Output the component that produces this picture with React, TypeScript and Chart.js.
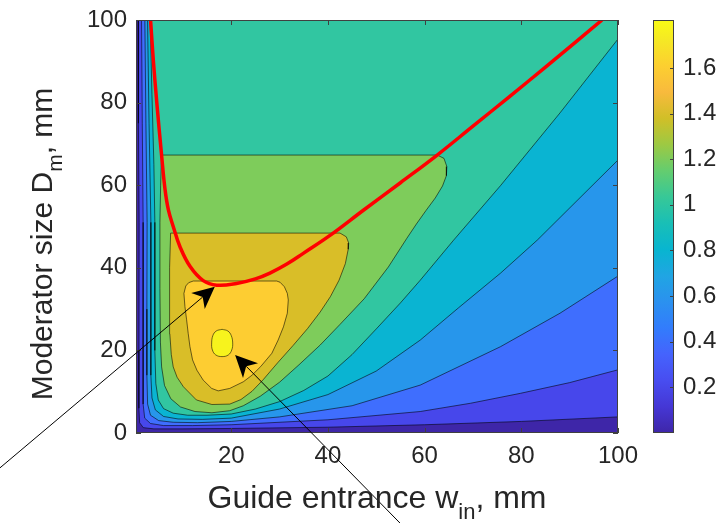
import React, { useEffect, useRef } from 'react';
import { Chart, registerables } from 'chart.js';
Chart.register(...registerables);

// ---------- axes / ticks ----------
const X_RANGE = [0.3, 100];
const Y_RANGE = [0, 100];
const CB_RANGE = [0, 1.81];
const X_TICKS = [20, 40, 60, 80, 100];
const Y_TICKS = [0, 20, 40, 60, 80, 100];
const CB_TICKS = [0.2, 0.4, 0.6, 0.8, 1, 1.2, 1.4, 1.6];

// ---------- contour levels (value of f >= level) ----------
const LEVELS = [0.2, 0.4, 0.6, 0.8, 1.0, 1.2, 1.4, 1.6, 1.8];

// open contours: start on top edge, end on right edge  [w_in, D_m]
const C_02 = [[0.75,100],[0.85,75],[0.95,51],[0.92,20],[0.9,6],[1.05,2.5],[1.8,1.3],[4,1.0],[10,1.0],[20,1.1],[40,1.4],[60,2.0],[80,2.8],[100,3.9]];
const C_04 = [[1.45,100],[1.6,75],[1.78,51],[1.75,15],[1.8,7],[2.1,3.6],[3.3,2.3],[6,1.8],[12,1.8],[20,2.0],[40,3.2],[59.1,5.2],[69.5,7.2],[79.8,9.6],[90,12.2],[100,15.3]];
const C_06 = [[2.13,100],[2.35,75],[2.6,51],[2.55,30],[2.55,14],[2.7,7],[3.3,4.3],[5,3.0],[8,2.6],[13,2.5],[20,2.8],[30,3.9],[45,6.6],[59.1,11.6],[75.7,20.9],[88,29],[100,38]];
const C_08 = [[2.69,100],[3.0,75],[3.38,51],[3.35,30],[3.4,14],[3.6,8.5],[4.3,5.6],[6,4.0],[9,3.4],[14,3.3],[20,3.6],[30,5.8],[40,9.3],[50,15],[59.1,22.5],[67,30.3],[75.7,38.7],[83.3,46.7],[100,66.1]];
const C_10 = [[3.23,100],[3.6,82],[4.0,65],[4.2,51],[4.2,35],[4.2,20],[4.4,12],[4.9,8],[6,5.9],[8,4.8],[11,4.3],[15,4.3],[20,4.6],[25,5.8],[30,7.6],[35,10.3],[40,13.8],[45,19],[50,25.2],[55,31.5],[59.1,37],[66,46.7],[75.7,59.9],[88,77.5],[100,95.4]];
// closed contours
const C_12 = [[5.59,67.3],[62.6,67.3],[64.0,66.5],[64.6,64.5],[64.5,62.3],[63.7,59.8],[62.2,56.9],[60.3,53.9],[58.3,50.6],[56.3,47.1],[52.5,40.2],[47.5,32.5],[42.5,26.3],[38.4,21.3],[34,16.5],[30,12.3],[26,8.9],[22.5,6.6],[19.7,5.4],[16,4.9],[12.5,5.2],[9.5,6.3],[7.5,8.3],[6.2,11.5],[5.6,16],[5.35,22],[5.25,35],[5.25,51],[5.4,60]];
const C_14 = [[7.46,48.4],[42.5,48.4],[43.8,47.5],[44.3,46],[44.2,44.5],[43.6,41],[42.3,37],[40.5,33],[38.4,29.3],[35.8,25.3],[32.8,21.2],[29.6,17],[26.6,12.9],[24.3,10.1],[22,8.1],[19.7,7.0],[16,6.9],[12.8,8.0],[10.1,11.2],[8.8,13.5],[8.0,16],[7.6,19],[7.3,24],[7.2,30],[7.3,40]];
const C_16 = [[12.14,36.8],[29.4,36.8],[30.1,36.5],[31.0,35.4],[31.6,33.8],[31.8,32.2],[31.6,29],[30.8,25.7],[29.7,22.5],[28.4,19.3],[26.1,16.1],[24.3,14.0],[22.5,12.4],[19.7,10.8],[17.3,10.2],[15.95,10.8],[14.2,12.8],[12.9,15.2],[12.0,17.7],[11.46,20.9],[11.1,24.1],[10.77,27.4],[10.42,30.6],[10.21,33.8],[10.6,35.6],[11.2,36.4]];
const C_18 = [[18.1,25.1],[19.3,24.7],[20.0,23.6],[20.3,21.8],[20.1,20.1],[19.4,18.9],[18.1,18.5],[16.8,18.9],[16.1,20.1],[15.95,21.8],[16.2,23.6],[16.9,24.7]];

const OPEN_CONTOURS = [C_02, C_04, C_06, C_08, C_10];
const CLOSED_CONTOURS = [C_12, C_14, C_16, C_18];

// optimum curve (red)
const RED_CURVE = [[3.31,100],[3.9,90],[4.6,80],[5.59,67.3],[6.3,59],[7.0,54],[8.0,50],[9.4,45.1],[11.5,40.3],[14.2,36.9],[17.0,35.8],[21.1,36.2],[25,37.3],[28.0,38.7],[31.5,40.9],[34.9,43.5],[40.5,47.9],[47.4,54.0],[55,60.6],[62.6,67.3],[70,74.3],[77.5,81.4],[85,88.6],[96.7,100]];

// annotation arrows (data units: from -> to)
const ARROWS = [
  { from: [-27.9, -8.5], to: [16.6, 35.4] },
  { from: [54.9, -21.8], to: [20.8, 18.9] },
];

// ---------- styles ----------
const BASE_COLOR = '#3e26a8';
const LEVEL_COLORS = ['#4747eb', '#3f6efe', '#2796eb', '#0ab4d2', '#31c6a1', '#7ecc5b', '#d9be28', '#fdcd32', '#f7f31d'];
const PARULA: [number, string][] = [
  [0, '#3e26a8'], [4/63, '#4537d5'], [8/63, '#484df0'], [12/63, '#4563fd'], [16/63, '#327cfc'],
  [20/63, '#2b91ef'], [24/63, '#20a5e3'], [28/63, '#08b5d0'], [32/63, '#19bfb6'], [36/63, '#37c897'],
  [40/63, '#64cd6f'], [44/63, '#9dc943'], [48/63, '#d1bf27'], [52/63, '#f8ba3d'], [56/63, '#fccf30'],
  [60/63, '#f5e924'], [1, '#f9fb15'],
];
const FONT = "'Liberation Sans', Arial, Helvetica, sans-serif";
const TEXT = '#262626';
const AXIS = '#404040';
const TICK_SIZE = 24;
const XTITLE_SIZE = 32;
const YTITLE_SIZE = 30;

const toPts = (arr: number[][]) => arr.map(([x, y]) => ({ x, y }));

function buildDatasets() {
  const ds: any[] = [];
  const E = 106;
  OPEN_CONTOURS.forEach((c, i) => {
    const first = c[0];
    const last = c[c.length - 1];
    const poly = [[first[0], E], ...c, [E, last[1]], [E, E]];
    ds.push({
      label: 'f≥' + LEVELS[i], data: toPts(poly), showLine: true, fill: 'shape',
      backgroundColor: LEVEL_COLORS[i], borderColor: 'rgba(0,0,0,0.7)', borderWidth: 0.8,
      pointRadius: 0, tension: 0, order: 20 - i,
    });
  });
  CLOSED_CONTOURS.forEach((c, j) => {
    const i = j + OPEN_CONTOURS.length;
    const poly = [...c, c[0]];
    ds.push({
      label: 'f≥' + LEVELS[i], data: toPts(poly), showLine: true, fill: 'shape',
      backgroundColor: LEVEL_COLORS[i], borderColor: 'rgba(0,0,0,0.7)', borderWidth: 0.8,
      pointRadius: 0, tension: i === LEVELS.length - 1 ? 0.4 : 0, order: 20 - i,
    });
  });
  ds.push({
    label: 'optimum', data: toPts(RED_CURVE), showLine: true, fill: false,
    borderColor: '#ff0000', borderWidth: 3.5, pointRadius: 0, tension: 0.4, order: 0,
  });
  return ds;
}

function drawSubText(ctx: CanvasRenderingContext2D, parts: [string, boolean][], size: number) {
  const sub = Math.round(size * 0.7);
  let total = 0;
  const widths = parts.map(([t, s]) => {
    ctx.font = `${s ? sub : size}px ${FONT}`;
    const w = ctx.measureText(t).width;
    total += w;
    return w;
  });
  let x = -total / 2;
  parts.forEach(([t, s], k) => {
    ctx.font = `${s ? sub : size}px ${FONT}`;
    ctx.fillText(t, x, s ? size * 0.33 : 0);
    x += widths[k];
  });
}

const decor = {
  id: 'decor',
  beforeDatasetsDraw(chart: any) {
    const { ctx, chartArea: a } = chart;
    ctx.save();
    ctx.fillStyle = BASE_COLOR;
    ctx.fillRect(a.left, a.top, a.right - a.left, a.bottom - a.top);
    ctx.restore();
  },
  afterDraw(chart: any) {
    const { ctx, chartArea: a, scales } = chart;
    const xs = scales.x, ys = scales.y, cb = scales.cb;
    ctx.save();
    // box
    ctx.strokeStyle = AXIS;
    ctx.lineWidth = 1;
    ctx.strokeRect(a.left + 0.5, a.top + 0.5, a.right - a.left - 1, a.bottom - a.top - 1);
    // inward ticks
    ctx.beginPath();
    X_TICKS.forEach(v => {
      const p = Math.round(xs.getPixelForValue(v)) + 0.5;
      ctx.moveTo(p, a.bottom); ctx.lineTo(p, a.bottom - 5);
      ctx.moveTo(p, a.top); ctx.lineTo(p, a.top + 5);
    });
    Y_TICKS.forEach(v => {
      const p = Math.round(ys.getPixelForValue(v)) + 0.5;
      ctx.moveTo(a.left, p); ctx.lineTo(a.left + 5, p);
      ctx.moveTo(a.right, p); ctx.lineTo(a.right - 5, p);
    });
    ctx.stroke();

    // colorbar
    const cbL = a.right + 35, cbW = 21;
    const cTop = cb.getPixelForValue(CB_RANGE[1]);
    const cBot = cb.getPixelForValue(CB_RANGE[0]);
    const g = ctx.createLinearGradient(0, cBot, 0, cTop);
    PARULA.forEach(([p, c]) => g.addColorStop(p, c));
    ctx.fillStyle = g;
    ctx.fillRect(cbL, cTop, cbW, cBot - cTop);
    ctx.strokeStyle = AXIS;
    ctx.strokeRect(cbL + 0.5, cTop + 0.5, cbW - 1, cBot - cTop - 1);
    ctx.beginPath();
    CB_TICKS.forEach(v => {
      const p = Math.round(cb.getPixelForValue(v)) + 0.5;
      ctx.moveTo(cbL + cbW, p); ctx.lineTo(cbL + cbW - 4, p);
    });
    ctx.stroke();

    // arrows
    ARROWS.forEach(({ from, to }) => {
      const x0 = xs.getPixelForValue(from[0]), y0 = ys.getPixelForValue(from[1]);
      const x1 = xs.getPixelForValue(to[0]), y1 = ys.getPixelForValue(to[1]);
      const ang = Math.atan2(y1 - y0, x1 - x0);
      const L = 22, W = 10.5;
      const ux = Math.cos(ang), uy = Math.sin(ang);
      const bx = x1 - ux * L, by = y1 - uy * L;
      const nx = x1 - ux * L * 0.72, ny = y1 - uy * L * 0.72;
      ctx.strokeStyle = '#000';
      ctx.lineWidth = 1;
      ctx.beginPath(); ctx.moveTo(x0, y0); ctx.lineTo(nx, ny); ctx.stroke();
      ctx.fillStyle = '#000';
      ctx.beginPath();
      ctx.moveTo(x1, y1);
      ctx.lineTo(bx - uy * W, by + ux * W);
      ctx.lineTo(nx, ny);
      ctx.lineTo(bx + uy * W, by - ux * W);
      ctx.closePath();
      ctx.fill();
    });

    // axis titles with subscripts
    ctx.fillStyle = TEXT;
    ctx.textBaseline = 'alphabetic';
    ctx.textAlign = 'left';
    ctx.save();
    ctx.translate((a.left + a.right) / 2, 508);
    drawSubText(ctx, [['Guide entrance w', false], ['in', true], [', mm', false]], XTITLE_SIZE);
    ctx.restore();
    ctx.save();
    ctx.translate(52, 244);
    ctx.rotate(-Math.PI / 2);
    drawSubText(ctx, [['Moderator size D', false], ['m', true], [', mm', false]], YTITLE_SIZE);
    ctx.restore();
    ctx.restore();
  },
};

export default function App() {
  const ref = useRef<HTMLCanvasElement>(null);
  useEffect(() => {
    const canvas = ref.current!;
    const tickFont = { family: FONT, size: TICK_SIZE };
    const chart = new Chart(canvas, {
      type: 'scatter',
      data: { datasets: buildDatasets() },
      options: {
        animation: false,
        responsive: false,
        events: [],
        layout: { padding: { top: 20, left: 0, right: 0, bottom: 0 } },
        plugins: { legend: { display: false }, tooltip: { enabled: false } },
        scales: {
          x: {
            type: 'linear', min: X_RANGE[0], max: X_RANGE[1],
            afterBuildTicks: (s: any) => { s.ticks = X_TICKS.map(v => ({ value: v })); },
            grid: { display: false, drawTicks: true, tickLength: 9 }, border: { display: false },
            ticks: { font: tickFont, color: TEXT, padding: 0, maxRotation: 0, autoSkip: false },
            afterFit: (s: any) => { s.height = 90; },
          },
          y: {
            type: 'linear', min: Y_RANGE[0], max: Y_RANGE[1],
            afterBuildTicks: (s: any) => { s.ticks = Y_TICKS.map(v => ({ value: v })); },
            grid: { display: false, drawTicks: true, tickLength: 9 }, border: { display: false },
            ticks: { font: tickFont, color: TEXT, padding: 0, autoSkip: false },
            afterFit: (s: any) => { s.width = 136; },
          },
          cb: {
            type: 'linear', position: 'right', min: CB_RANGE[0], max: CB_RANGE[1],
            afterBuildTicks: (s: any) => { s.ticks = CB_TICKS.map(v => ({ value: v })); },
            grid: { display: false, drawTicks: true, tickLength: 65 }, border: { display: false },
            ticks: { font: tickFont, color: TEXT, padding: 0, autoSkip: false, callback: (v: any) => String(v) },
            afterFit: (s: any) => { s.width = 102; },
          },
        },
      },
      plugins: [decor],
    } as any);
    return () => chart.destroy();
  }, []);
  return (
    <div style={{ position: 'absolute', left: 0, top: 0, width: 720, height: 523, background: '#fff' }}>
      <canvas ref={ref} width={720} height={523} style={{ display: 'block', width: 720, height: 523 }} />
    </div>
  );
}
